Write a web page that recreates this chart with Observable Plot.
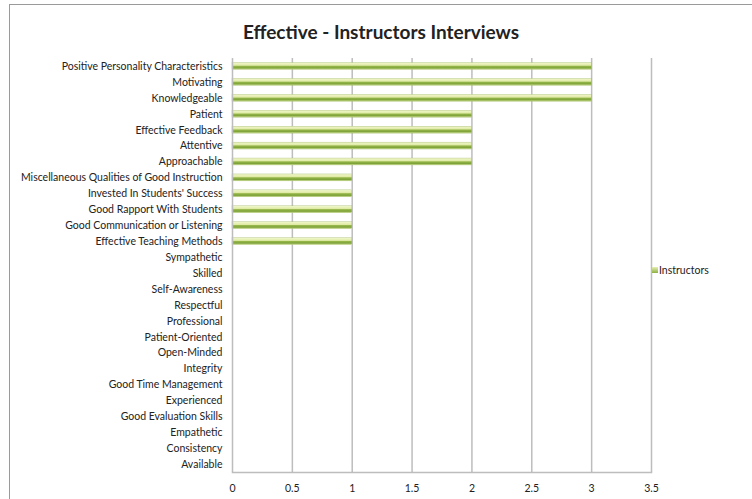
<!DOCTYPE html>
<html>
<head>
<meta charset="utf-8">
<script src="https://cdn.jsdelivr.net/npm/d3@7"></script>
<script src="https://cdn.jsdelivr.net/npm/@observablehq/plot@0.6"></script>
<style>
  html, body { margin: 0; padding: 0; background: #fff; overflow: hidden; }
  #wrap { position: relative; width: 752px; height: 499px; overflow: hidden; font-family: Lato, "Open Sans", sans-serif; }
  #frame { position: absolute; left: 9px; top: 4px; width: 900px; height: 700px; border: 1.5px solid #9a9a9a; box-sizing: border-box; }
  #title { position: absolute; left: 0; width: 762px; top: 20px; text-align: center; font-size: 19px; font-weight: bold; color: #222; }
  #chart { position: absolute; left: 0; top: 0; }
  #legend { position: absolute; left: 652px; top: 264px; font-size: 10.5px; color: #222; display: flex; align-items: center; }
  #legend span.sw { display: inline-block; width: 6px; height: 6px; margin-right: 1px; background: linear-gradient(#e6efb4, #8cb043); }
</style>
</head>
<body>
<div id="wrap">
  <div id="frame"></div>
  <div id="chart"></div>
  <div id="title">Effective - Instructors Interviews</div>
  <div id="legend"><span class="sw"></span>Instructors</div>
</div>
<script>
const categories = [
  "Positive Personality Characteristics", "Motivating", "Knowledgeable", "Patient",
  "Effective Feedback", "Attentive", "Approachable",
  "Miscellaneous Qualities of Good Instruction", "Invested In Students' Success",
  "Good Rapport With Students", "Good Communication or Listening", "Effective Teaching Methods",
  "Sympathetic", "Skilled", "Self-Awareness", "Respectful", "Professional", "Patient-Oriented",
  "Open-Minded", "Integrity", "Good Time Management", "Experienced", "Good Evaluation Skills",
  "Empathetic", "Consistency", "Available"
];
const instructors = [3, 3, 3, 2, 2, 2, 2, 1, 1, 1, 1, 1, 0, 0, 0, 0, 0, 0, 0, 0, 0, 0, 0, 0, 0, 0];
const xTicks = [0, 0.5, 1, 1.5, 2, 2.5, 3, 3.5];
const seriesName = "Instructors";

const data = categories.map((c, i) => ({category: c, value: instructors[i]}));

const gradientDefs = () => {
  const svg = d3.create("svg:defs");
  const g = svg.append("linearGradient").attr("id", "barGrad").attr("x1", 0).attr("y1", 0).attr("x2", 0).attr("y2", 1);
  [["0%", "#f2f7cf"], ["40%", "#e0eba6"], ["55%", "#93b548"], ["80%", "#7ea23a"], ["100%", "#d6e59c"]]
    .forEach(([o, c]) => g.append("stop").attr("offset", o).attr("stop-color", c));
  return svg.node();
};

const chart = Plot.plot({
  width: 752,
  height: 499,
  marginLeft: 232,
  marginRight: 101,
  marginTop: 58,
  marginBottom: 27,
  style: {fontFamily: "Lato, 'Open Sans', sans-serif", fontSize: "10.5px", color: "#222", background: "transparent"},
  x: {domain: [0, 3.5], ticks: xTicks, tickFormat: d => String(d), label: null},
  y: {domain: categories, padding: 0, round: false, label: null},
  marks: [
    gradientDefs,
    Plot.gridX(xTicks.slice(1), {stroke: "#bdbdbd", strokeOpacity: 1, strokeWidth: 1.5}),
    Plot.barX(data, {x: "value", y: "category", insetTop: 4.5, insetBottom: 4.5, fill: "url(#barGrad)", stroke: "#8aa84a", strokeWidth: 0.3}),
    Plot.ruleX([0], {stroke: "#bdbdbd", strokeWidth: 1.5}),
    Plot.frame({anchor: "bottom", stroke: "#bdbdbd", strokeWidth: 1.5}),
    Plot.axisY({tickSize: 0, tickPadding: 10, fontSize: 10.5}),
    Plot.axisX({ticks: xTicks, tickSize: 0, tickPadding: 12, tickFormat: d => String(d), label: null})
  ]
});
document.getElementById("chart").appendChild(chart);
</script>
</body>
</html>
